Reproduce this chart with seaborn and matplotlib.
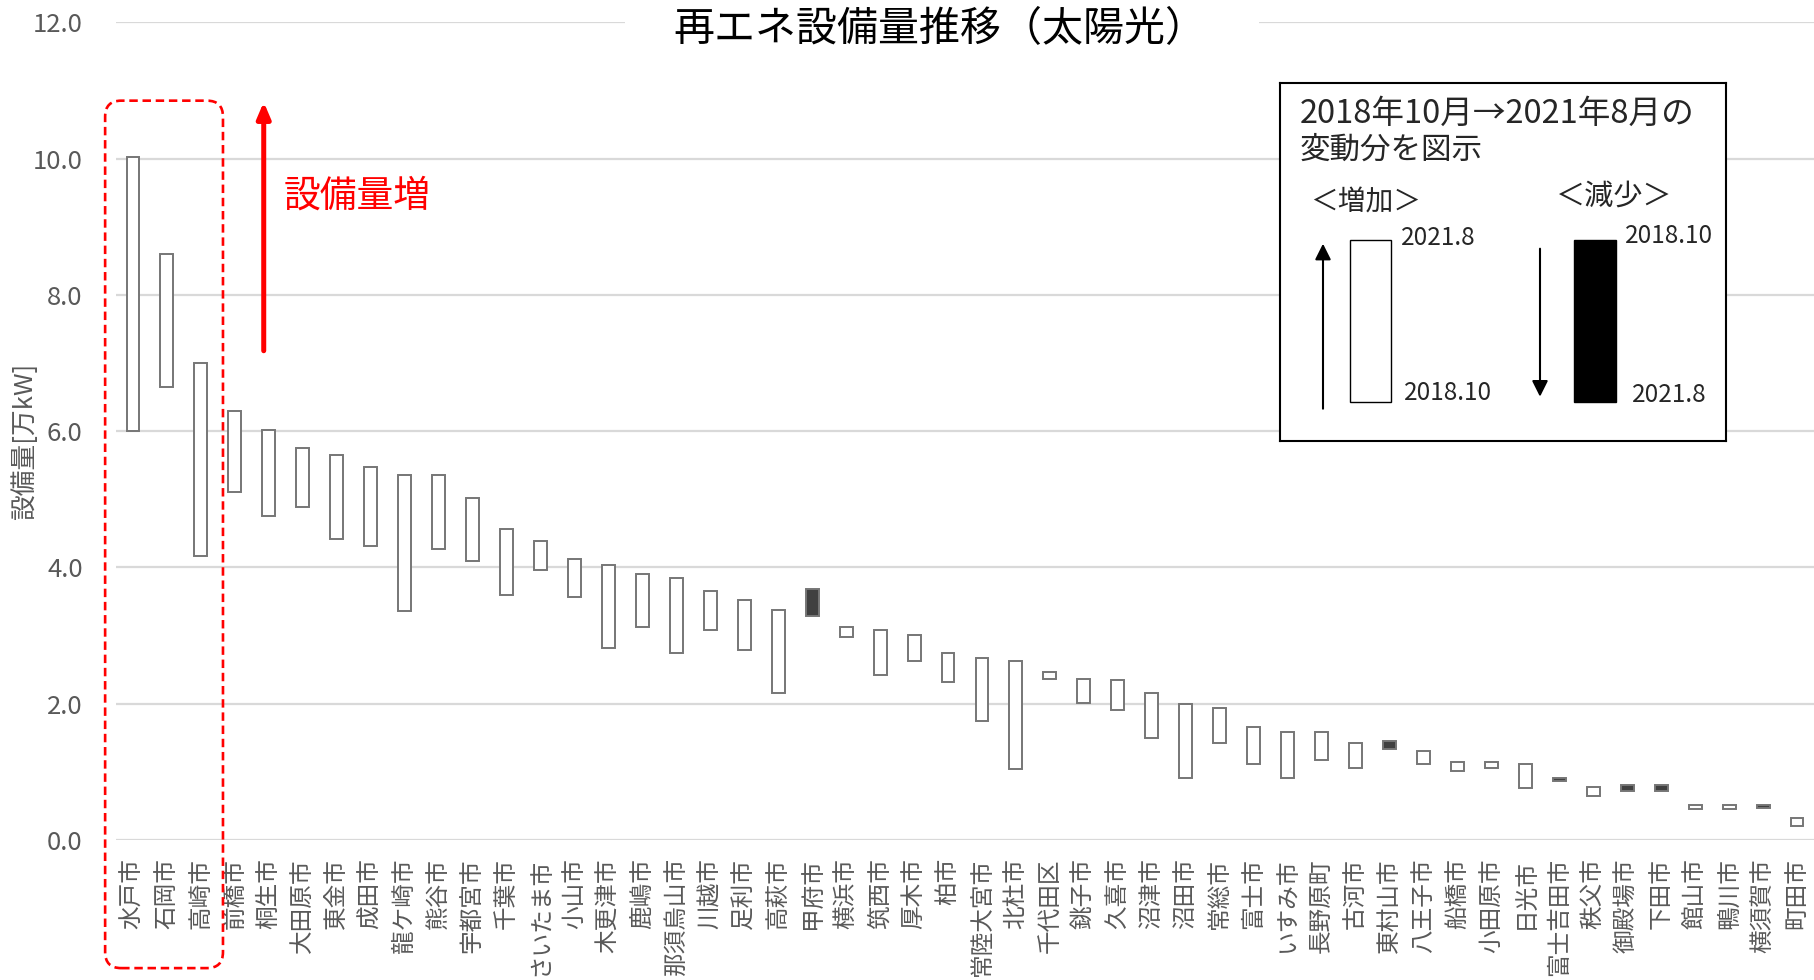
import numpy as np
import pandas as pd
import matplotlib
matplotlib.use("Agg")
import matplotlib.pyplot as plt
from matplotlib.patches import FancyBboxPatch, Rectangle
from matplotlib.transforms import IdentityTransform
import seaborn as sns

# 太陽光発電の設備量 [万kW]（2018年10月 → 2021年8月）
cities = [
    "水戸市", "石岡市", "高崎市", "前橋市", "桐生市", "大田原市", "東金市", "成田市",
    "龍ケ崎市", "熊谷市", "宇都宮市", "千葉市", "さいたま市", "小山市", "木更津市",
    "鹿嶋市", "那須烏山市", "川越市", "足利市", "高萩市", "甲府市", "横浜市", "筑西市",
    "厚木市", "柏市", "常陸大宮市", "北杜市", "千代田区", "銚子市", "久喜市", "沼津市",
    "沼田市", "常総市", "富士市", "いすみ市", "長野原町", "古河市", "東村山市",
    "八王子市", "船橋市", "小田原市", "日光市", "富士吉田市", "秩父市", "御殿場市",
    "下田市", "館山市", "鴨川市", "横須賀市", "町田市",
]
cap_2018_10 = [
    6.00, 6.65, 4.17, 5.10, 4.76, 4.88, 4.42, 4.32,
    3.36, 4.27, 4.10, 3.59, 3.96, 3.57, 2.82,
    3.13, 2.74, 3.08, 2.79, 2.15, 3.69, 2.98, 2.42,
    2.62, 2.32, 1.74, 1.04, 2.37, 2.01, 1.91, 1.50,
    0.91, 1.43, 1.11, 0.91, 1.18, 1.06, 1.46,
    1.11, 1.01, 1.06, 0.77, 0.91, 0.65, 0.81,
    0.81, 0.45, 0.45, 0.52, 0.21,
]
cap_2021_08 = [
    10.03, 8.60, 7.00, 6.29, 6.02, 5.75, 5.65, 5.48,
    5.36, 5.36, 5.02, 4.56, 4.39, 4.12, 4.03,
    3.91, 3.85, 3.66, 3.52, 3.38, 3.29, 3.13, 3.08,
    3.01, 2.74, 2.67, 2.62, 2.47, 2.37, 2.35, 2.15,
    1.99, 1.93, 1.66, 1.58, 1.58, 1.43, 1.33,
    1.31, 1.14, 1.14, 1.11, 0.87, 0.78, 0.72,
    0.72, 0.51, 0.51, 0.47, 0.32,
]
y_ticks = [0, 2, 4, 6, 8, 10, 12]

sns.set_theme(style="white")
plt.rcParams["font.family"] = ["Noto Sans CJK JP", "DejaVu Sans"]

GRAY_TXT = "#595959"
W, H, DPI = 1814, 980, 100
fig = plt.figure(figsize=(W / DPI, H / DPI), dpi=DPI)
fig.patch.set_facecolor("white")
ax = fig.add_axes([116 / W, 1 - 840 / H, 1 - 116 / W, (840 - 22.3) / H])

df = pd.DataFrame({"city": cities, "y2018": cap_2018_10, "y2021": cap_2021_08})
df["low"] = df[["y2018", "y2021"]].min(axis=1)
df["span"] = (df["y2021"] - df["y2018"]).abs()
inc = df[df["y2021"] >= df["y2018"]]
dec = df[df["y2021"] < df["y2018"]]

common = dict(x="city", y="span", order=cities, width=0.38, errorbar=None,
              saturation=1, linewidth=1.4, edgecolor="#767676", ax=ax, zorder=3)
sns.barplot(data=inc, bottom=inc["low"].to_numpy(), color="white", **common)
sns.barplot(data=dec, bottom=dec["low"].to_numpy(), color="#404040", **common)

ax.set_xlim(-0.5, len(cities) - 0.5)
ax.set_ylim(0, 12)
ax.set_yticks(y_ticks)
ax.set_yticklabels([f"{v:.1f}" for v in y_ticks])
ax.set_xticks(range(len(cities)))
ax.set_xticklabels(cities, rotation=90)
ax.tick_params(axis="x", length=0, pad=13, labelsize=17, labelcolor=GRAY_TXT)
ax.tick_params(axis="y", length=0, pad=24, labelsize=18.5, labelcolor=GRAY_TXT)
for s in ax.spines.values():
    s.set_visible(False)
ax.yaxis.grid(True, color="#d9d9d9", linewidth=1.6, zorder=0)
ax.xaxis.grid(False)
ax.set_axisbelow(True)
ax.set_xlabel("")
ax.set_ylabel("設備量[万kW]", fontsize=18.5, color=GRAY_TXT)
ax.yaxis.set_label_coords(-0.046, 0.488)

# タイトル（背後のグリッド線を白で抜く）
fig.add_artist(Rectangle((625 / W, 1 - 52 / H), (1259 - 625) / W, 52 / H,
                         transform=fig.transFigure, facecolor="white",
                         edgecolor="none", zorder=2))
fig.text(940 / W, 1 - 30 / H, "再エネ設備量推移（太陽光）", ha="center", va="center",
         fontsize=29.5, color="black", zorder=3)

# 上位3市を囲む赤い破線枠
(xl, yb) = ax.transData.transform((-0.82, -1.88))
(xr, yt) = ax.transData.transform((2.65, 10.85))
fig.add_artist(FancyBboxPatch((xl, yb), xr - xl, yt - yb,
                              boxstyle="round,pad=0,rounding_size=16",
                              transform=IdentityTransform(), fill=False,
                              edgecolor="red", linewidth=1.9,
                              linestyle=(0, (3.2, 1.8)), zorder=4))

# 設備量増の矢印
ax.annotate("", xy=(3.85, 10.83), xytext=(3.85, 7.18),
            arrowprops=dict(arrowstyle="-|>,head_length=0.47,head_width=0.2",
                            color="red", lw=3.6, mutation_scale=20,
                            shrinkA=0, shrinkB=0),
            annotation_clip=False, zorder=5)
ax.text(4.45, 9.45, "設備量増", color="red", fontsize=26.5, ha="left", va="center")

# 凡例ボックス
lg = fig.add_axes([1280 / W, 1 - 441 / H, 446 / W, 358.3 / H])
lg.set_facecolor("white")
lg.set_xlim(0, 446)
lg.set_ylim(358.3, 0)
lg.set_xticks([])
lg.set_yticks([])
for s in lg.spines.values():
    s.set_visible(True)
    s.set_color("black")
    s.set_linewidth(1.5)

lg.text(20, 31.6, "2018年10月→2021年8月の", fontsize=23.5, ha="left", va="center")
lg.text(20, 67.8, "変動分を図示", fontsize=22, ha="left", va="center")
lg.text(86, 120, "＜増加＞", fontsize=20, ha="center", va="center")
lg.text(334, 114, "＜減少＞", fontsize=21, ha="center", va="center")

lg.add_patch(Rectangle((70, 157), 41, 162, facecolor="white", edgecolor="black", lw=1.0))
lg.add_patch(Rectangle((294, 157), 42, 162, facecolor="black", edgecolor="black", lw=1.0))
arrow_kw = dict(arrowstyle="-|>,head_length=0.6,head_width=0.3", color="black",
                lw=1.5, mutation_scale=16, shrinkA=0, shrinkB=0)
lg.annotate("", xy=(43, 161), xytext=(43, 326), arrowprops=arrow_kw)
lg.annotate("", xy=(260, 314), xytext=(260, 166), arrowprops=arrow_kw)

lg.text(121, 155, "2021.8", fontsize=17.5, ha="left", va="center")
lg.text(124, 310, "2018.10", fontsize=17.5, ha="left", va="center")
lg.text(345, 153, "2018.10", fontsize=17.5, ha="left", va="center")
lg.text(352, 312, "2021.8", fontsize=17.5, ha="left", va="center")

fig.savefig("out.png", dpi=DPI, facecolor="white")
